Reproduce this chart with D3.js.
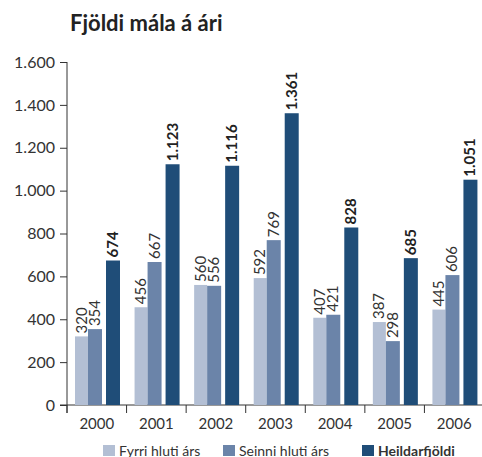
<!DOCTYPE html>
<html lang="is">
<head>
<meta charset="UTF-8">
<title>Fjöldi mála á ári</title>
<style>
  body { margin: 0; background: #fff; }
  svg { display: block; font-family: Lato, "Noto Sans", sans-serif; }
</style>
</head>
<body>
<div id="chart"></div>
<script src="https://d3js.org/d3.v7.min.js"></script>
<script>
const years = ["2000", "2001", "2002", "2003", "2004", "2005", "2006"];
const seriesNames = ["Fyrri hluti árs", "Seinni hluti árs", "Heildarfjöldi"];
const fyrri = [320, 456, 560, 592, 407, 387, 445];
const seinni = [354, 667, 556, 769, 421, 298, 606];
const heild = [674, 1123, 1116, 1361, 828, 685, 1051];
const yTicks = [0, 200, 400, 600, 800, 1000, 1200, 1400, 1600];

const width = 482, height = 457,
      margin = {top: 62, right: -2, bottom: 52, left: 67};

const colors = ["#b3bfd4", "#6b84a9", "#1f4d78"];
const fmt = d3.format(",");
const isl = v => fmt(v).replace(/,/g, ".");

const svg = d3.select("#chart").append("svg")
  .attr("width", width).attr("height", height);

const x = d3.scaleBand(years, [margin.left, width - margin.right]);
const y = d3.scaleLinear([0, 1600], [height - margin.bottom, margin.top]);

// bar placement inside each year band
const inner = [{off: 8, w: 13}, {off: 21, w: 14}, {off: 39, w: 14}];

const data = years.map((yr, i) => ({year: yr, values: [fyrri[i], seinni[i], heild[i]]}));

// title
svg.append("text")
  .attr("x", 70).attr("y", 31)
  .attr("font-size", 22).attr("font-weight", 700)
  .attr("fill", "#222")
  .text("Fjöldi mála á ári");

// y axis
const yAxis = svg.append("g")
  .attr("transform", `translate(${margin.left},0)`)
  .call(d3.axisLeft(y).tickValues(yTicks).tickSize(7).tickPadding(5).tickFormat(isl));
yAxis.select(".domain").attr("d", `M0,${y(1600)}V${y(0) + 8}`);
yAxis.selectAll("text").attr("font-size", 16).attr("fill", "#333").attr("font-family", "Lato, sans-serif");
yAxis.selectAll("line, path").attr("stroke", "#333");

// x axis
const xAxis = svg.append("g")
  .attr("transform", `translate(0,${y(0)})`)
  .call(d3.axisBottom(x).tickSize(0).tickPadding(13));
xAxis.select(".domain").attr("d", `M${margin.left - 7},0H${width}`).attr("stroke", "#333");
xAxis.selectAll("text").attr("font-size", 15).attr("fill", "#333").attr("font-family", "Lato, sans-serif");
xAxis.selectAll(".sep").data(years).join("line")
  .attr("class", "sep")
  .attr("x1", d => x(d)).attr("x2", d => x(d))
  .attr("y1", 0).attr("y2", 8)
  .attr("stroke", "#333");

// bars
const groups = svg.append("g").selectAll("g").data(data).join("g")
  .attr("transform", d => `translate(${x(d.year)},0)`);

groups.selectAll("rect")
  .data(d => d.values)
  .join("rect")
  .attr("x", (d, i) => inner[i].off)
  .attr("width", (d, i) => inner[i].w)
  .attr("y", d => y(d))
  .attr("height", d => y(0) - y(d))
  .attr("fill", (d, i) => colors[i]);

groups.selectAll("text")
  .data(d => d.values)
  .join("text")
  .attr("transform", (d, i) =>
    `translate(${inner[i].off + inner[i].w / 2 + 5},${y(d) - 3}) rotate(-90)`)
  .attr("font-size", 15)
  .attr("font-weight", (d, i) => i === 2 ? 700 : 400)
  .attr("fill", (d, i) => i === 2 ? "#222" : "#333")
  .text(d => isl(d));

// legend
const legendPos = [103, 223, 362];
const legend = svg.append("g").selectAll("g").data(seriesNames).join("g")
  .attr("transform", (d, i) => `translate(${legendPos[i]},445)`);
legend.append("rect")
  .attr("width", 12).attr("height", 11)
  .attr("fill", (d, i) => colors[i]);
legend.append("text")
  .attr("x", 16).attr("y", 10.5)
  .attr("font-size", 14)
  .attr("font-weight", (d, i) => i === 2 ? 700 : 400)
  .attr("fill", "#333")
  .text(d => d);
</script>
</body>
</html>
